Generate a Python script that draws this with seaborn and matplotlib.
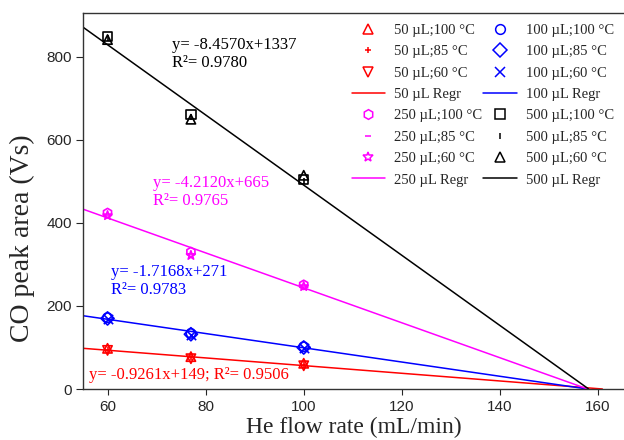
import numpy as np
import pandas as pd
import matplotlib
matplotlib.use("Agg")
import matplotlib.pyplot as plt
import seaborn as sns
from matplotlib.lines import Line2D

# ---------------- data ----------------
flow = [60, 77, 100]
volumes = ["50", "100", "250", "500"]
temps = ["100", "85", "60"]

v50_t100 = [98, 78, 62]
v50_t85 = [95, 76, 58]
v50_t60 = [93, 73, 56]
v100_t100 = [172, 134, 102]
v100_t85 = [170, 132, 100]
v100_t60 = [168, 130, 98]
v250_t100 = [424, 330, 251]
v250_t85 = [420, 326, 249]
v250_t60 = [418, 322, 247]
v500_t100 = [850, 662, 505]
v500_t85 = [845, 655, 500]
v500_t60 = [842, 650, 515]

slopes = [-0.9261, -1.7168, -4.2120, -8.4570]
intercepts = [149, 271, 665, 1337]
r2 = [0.9506, 0.9783, 0.9765, 0.9780]

values = {
    "50": [v50_t100, v50_t85, v50_t60],
    "100": [v100_t100, v100_t85, v100_t60],
    "250": [v250_t100, v250_t85, v250_t60],
    "500": [v500_t100, v500_t85, v500_t60],
}

# ---------------- styles ----------------
colors = {"50": "#ff0000", "100": "#0000ff", "250": "#ff00ff", "500": "#000000"}
markers = {
    "50": ["^", "+", "v"],
    "100": ["o", "D", "x"],
    "250": ["h", "_", "*"],
    "500": ["s", "|", "^"],
}

sns.set_theme(style="ticks")
plt.rcParams["font.family"] = ["Liberation Serif", "DejaVu Serif"]

fig = plt.figure(figsize=(6.24, 4.4), dpi=100)
ax = fig.add_axes([83 / 624, 51 / 440, 1 - 83 / 624, 376 / 440])

xmin = 55
handles = {}
for vi, v in enumerate(volumes):
    c = colors[v]
    for ti, t in enumerate(temps):
        df = pd.DataFrame({"x": flow, "y": values[v][ti]})
        m = markers[v][ti]
        filled = m in ["+", "x", "_", "|"]
        ms = 45 if m not in ["+", "_", "|"] else 25
        sns.scatterplot(data=df, x="x", y="y", ax=ax, marker=m, s=ms,
                        facecolor="none" if not filled else c,
                        edgecolor=c, color=c, linewidth=1.2, zorder=3, legend=False)
        handles[(v, t)] = Line2D([], [], linestyle="none", marker=m,
                                 markerfacecolor="none", markeredgecolor=c,
                                 markersize=7 if m not in ["+", "_", "|"] else 5,
                                 markeredgewidth=1.1)
    # regression line from xmin to x-intercept
    xend = -intercepts[vi] / slopes[vi]
    lx = [xmin, xend]
    ly = [slopes[vi] * xx + intercepts[vi] for xx in lx]
    sns.lineplot(x=lx, y=ly, ax=ax, color=c, linewidth=1.1, zorder=2)
    handles[(v, "regr")] = Line2D([], [], color=c, linewidth=1.1)

ax.set_xlim(55, 165.3)
ax.set_ylim(0, 906)
ax.set_xticks([60, 80, 100, 120, 140, 160])
ax.set_yticks([0, 200, 400, 600, 800])
for lab in ax.get_xticklabels() + ax.get_yticklabels():
    lab.set_family(["Liberation Sans", "DejaVu Sans"])
    lab.set_fontsize(11)
ax.tick_params(axis="x", direction="out", length=4, width=0.8, pad=4)
ax.tick_params(axis="y", direction="out", length=5, width=0.8, pad=3)
ax.spines["right"].set_visible(False)
for s in ["left", "bottom", "top"]:
    ax.spines[s].set_linewidth(1.0)
    ax.spines[s].set_color("#333333")

ax.set_xlabel("He flow rate (mL/min)", fontsize=17, labelpad=2)
ax.set_ylabel("CO peak area (Vs)", fontsize=20)
ax.yaxis.set_label_coords(-0.088, 0.40)

# equation annotations
ax.text(73.2, 807, "y= -8.4570x+1337\nR²= 0.9780", color=colors["500"],
        fontsize=12, va="center", ha="left", linespacing=1.15)
ax.text(69.2, 475, "y= -4.2120x+665\nR²= 0.9765", color=colors["250"],
        fontsize=12, va="center", ha="left", linespacing=1.15)
ax.text(60.8, 260, "y= -1.7168x+271\nR²= 0.9783", color=colors["100"],
        fontsize=12, va="center", ha="left", linespacing=1.15)
ax.text(56.3, 33, "y= -0.9261x+149; R²= 0.9506", color=colors["50"],
        fontsize=12, va="center", ha="left")

# legend: column 1 -> 50 and 250 groups, column 2 -> 100 and 500 groups
order = []
labels = []
for col in [["50", "250"], ["100", "500"]]:
    for v in col:
        for t in temps:
            order.append(handles[(v, t)])
            labels.append(f"{v} µL;{t} °C")
        order.append(handles[(v, "regr")])
        labels.append(f"{v} µL Regr")
ax.legend(order, labels, ncol=2, frameon=False, fontsize=10.5,
          loc="upper right", bbox_to_anchor=(0.992, 0.987),
          handlelength=2.3, handletextpad=0.6, columnspacing=0.1,
          labelspacing=0.56, borderaxespad=0.0)

fig.savefig("out.png", dpi=100)
